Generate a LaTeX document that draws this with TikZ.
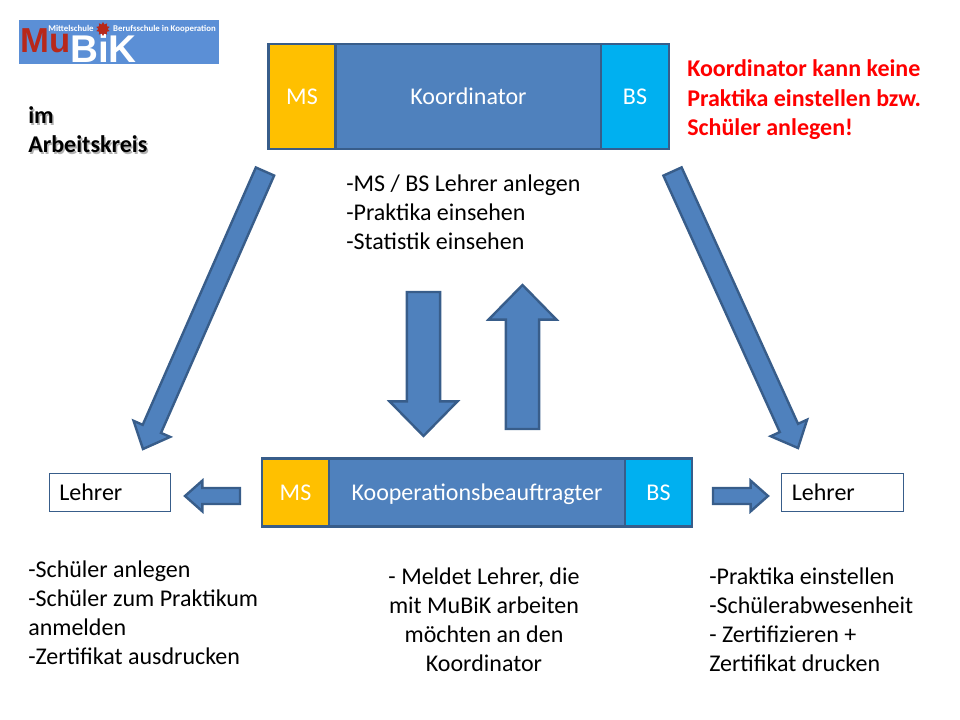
\documentclass[tikz,border=0pt]{standalone}
\usepackage{fontspec}
\setmainfont{Carlito}
\newfontfamily\logofont{Liberation Sans}
\usepackage{tkz-euclide}
\usetikzlibrary{calc,shapes.geometric}
\definecolor{barblue}{HTML}{4F81BD}
\definecolor{barline}{HTML}{385D8A}
\definecolor{msyellow}{HTML}{FFC000}
\definecolor{bscyan}{HTML}{00B0F0}
\definecolor{logoblue}{HTML}{5B8FD6}
\definecolor{logored}{HTML}{B8281A}
% tail, tip, half shaft, half head, head length
\newcommand{\blockarrow}[5]{
	\coordinate (neck) at ($(#2)!#5!(#1)$);
	\draw[arrow style] ($(#1)!#3!90:(#2)$) -- ($(neck)!#3!-90:(#1)$) -- ($(neck)!#4!-90:(#1)$) -- (#2)
		-- ($(neck)!#4!90:(#1)$) -- ($(neck)!#3!90:(#1)$) -- ($(#1)!#3!-90:(#2)$) -- cycle;
}
\begin{document}
\begin{tikzpicture}[x=0.75pt,y=-0.75pt,
	arrow style/.style={draw=barline,fill=barblue,line width=1.8pt,miter limit=20},
	bar style/.style={draw=barline,line width=2pt,text=white,inner sep=0pt,text height=15pt,text depth=2.5pt,font=\fontsize{18}{22}\selectfont},
	list style/.style={align=left,inner sep=0pt,font=\fontsize{18}{21.8}\selectfont},
	teacher style/.style={draw=barline,line width=0.75pt,minimum width=91pt,minimum height=29pt,inner sep=0pt,text height=15pt,text depth=2.5pt,font=\fontsize{18}{22}\selectfont}]
	\useasboundingbox (0,0) rectangle (960,720);
	% logo
	\fill[logoblue] (19,20) rectangle (219,64);
	\node[inner sep=0pt,text=white,font=\fontsize{29}{29}\logofont\bfseries] (logobik) at (103.5,48) {BiK};
	\node[inner sep=0pt,text=logored,font=\fontsize{26}{26}\logofont\bfseries] (logomu) at (45.5,41) {Mu};
	\node[inner sep=0pt,text=white,text height=5pt,text depth=1.5pt,font=\fontsize{6.6}{7}\bfseries] (logoms) at (71,29) {Mittelschule};
	\node[inner sep=0pt,text=white,text height=5pt,text depth=1.5pt,font=\fontsize{6.6}{7}\bfseries] (logobs) at (164.5,29) {Berufsschule in Kooperation};
	\node[star,star points=10,star point ratio=1.5,fill=logored,inner sep=0pt,minimum size=10.5pt] (logogear) at (103,29) {};
	% Koordinator
	\node[bar style,fill=msyellow,minimum width=50.6pt,minimum height=78.75pt] (topms) at (302,96.5) {MS};
	\node[bar style,fill=barblue,minimum width=198.75pt,minimum height=78.75pt] (topmain) at (468.5,96.5) {Koordinator};
	\node[bar style,fill=bscyan,minimum width=51pt,minimum height=78.75pt] (topbs) at (635,96.5) {BS};
	% Kooperationsbeauftragter
	\node[bar style,fill=msyellow,minimum width=50.25pt,minimum height=51pt] (lowms) at (295.5,492.5) {MS};
	\node[bar style,fill=barblue,minimum width=222pt,minimum height=51pt] (lowmain) at (477,492.5) {Kooperationsbeauftragter};
	\node[bar style,fill=bscyan,minimum width=50.25pt,minimum height=51pt] (lowbs) at (658.5,492.5) {BS};
	% Lehrer
	\node[teacher style,text width=76pt,align=left] (teacherleft) at (110,492.5) {Lehrer};
	\node[teacher style,text width=76pt,align=left] (teacherright) at (842.5,492.5) {Lehrer};
	% block arrows
	\tkzDefPoint(265,171.5){lefttail}
	\tkzDefPoint(143,449){lefttip}
	\tkzDefPoint(672.5,171.5){righttail}
	\tkzDefPoint(798,448){righttip}
	\tkzDefPoint(423.5,292){downtail}
	\tkzDefPoint(423.5,436){downtip}
	\tkzDefPoint(522.5,429){uptail}
	\tkzDefPoint(522.5,285){uptip}
	\tkzDefPoint(240,496){teachlefttail}
	\tkzDefPoint(185,496){teachlefttip}
	\tkzDefPoint(713,496){teachrighttail}
	\tkzDefPoint(768,496){teachrighttip}
	\blockarrow{lefttail}{lefttip}{7.5pt}{15pt}{16.5pt}
	\blockarrow{righttail}{righttip}{7.5pt}{15pt}{16.5pt}
	\blockarrow{downtail}{downtip}{12.5pt}{25.5pt}{26pt}
	\blockarrow{uptail}{uptip}{12.5pt}{25.5pt}{26pt}
	\blockarrow{teachlefttail}{teachlefttip}{6pt}{11.5pt}{13pt}
	\blockarrow{teachrighttail}{teachrighttip}{6pt}{11.5pt}{13pt}
	% texts
	\node[list style,anchor=west,text=gray!60,font=\fontsize{18}{21.8}\selectfont\bfseries] (workshadow) at (29.5,131.5) {im\\Arbeitskreis};
	\node[list style,anchor=west,font=\fontsize{18}{21.8}\selectfont\bfseries] (work) at (28,130) {im\\Arbeitskreis};
	\node[list style,anchor=west,text=red,font=\fontsize{18}{22.2}\selectfont\bfseries] (warning) at (687,100) {Koordinator kann keine\\Praktika einstellen bzw.\\Schüler anlegen!};
	\node[list style,anchor=west] (toptext) at (346,212) {-MS / BS Lehrer anlegen\\-Praktika einsehen\\-Statistik einsehen};
	\node[list style,anchor=west] (lefttext) at (28,612.5) {-Schüler anlegen\\-Schüler zum Praktikum\\anmelden\\-Zertifikat ausdrucken};
	\node[list style,align=center] (midtext) at (484,620) {- Meldet Lehrer, die\\mit MuBiK arbeiten\\möchten an den\\Koordinator};
	\node[list style,anchor=west] (righttext) at (709,619.5) {-Praktika einstellen\\-Schülerabwesenheit\\- Zertifizieren +\\Zertifikat drucken};
\end{tikzpicture}
\end{document}
